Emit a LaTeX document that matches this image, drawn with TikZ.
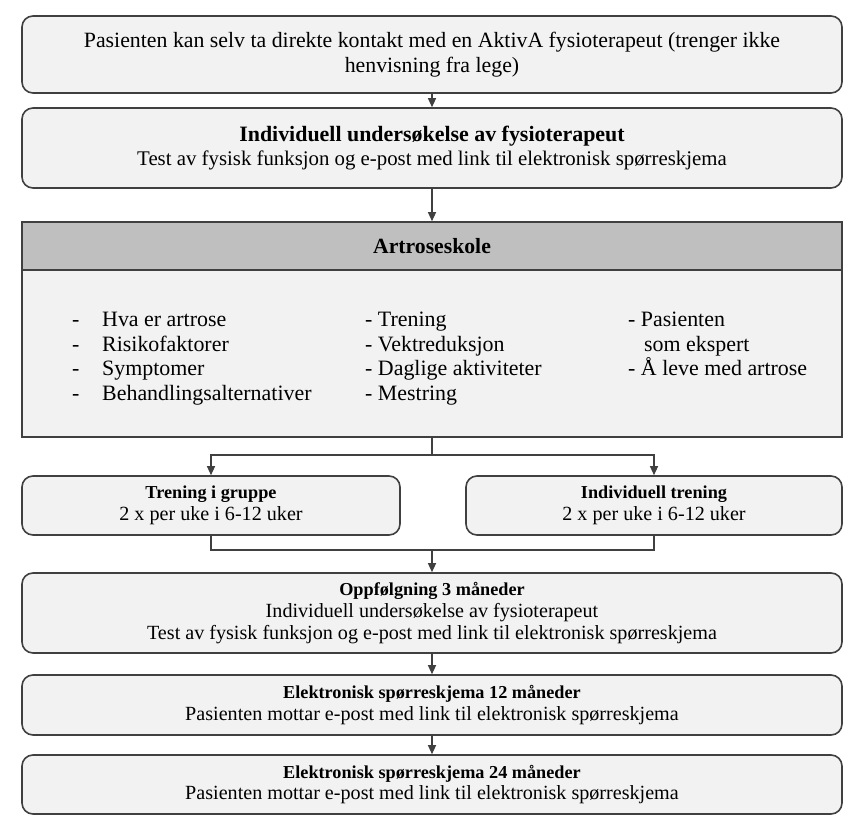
\documentclass[tikz,border=0pt]{standalone}
\usepackage{fontspec}
\setmainfont{Liberation Serif}
\usetikzlibrary{arrows.meta}
\definecolor{boxfill}{HTML}{F2F2F2}
\definecolor{headfill}{HTML}{BFBFBF}
\definecolor{boxline}{HTML}{404040}
\newcommand{\normtxt}{\fontsize{20.9}{24}\selectfont}
\newcommand{\smalltxt}{\fontsize{20.2}{22}\selectfont}
\newcommand{\smallbold}{\fontsize{18.3}{22}\selectfont\bfseries}

\begin{document}
\begin{tikzpicture}[x=1bp,y=-1bp]
\useasboundingbox (0,0) rectangle (861,837);
\begin{scope}[every node/.style={rectangle,rounded corners=11bp,draw=boxline,fill=boxfill,
              line width=1.6bp,minimum width=820bp,align=center,inner sep=0pt}]
    \node[minimum height=77bp,font=\fontsize{21.9}{24.5}\selectfont] (kontakt) at (432,54.5)
        {\raisebox{-1.5bp}{Pasienten kan selv ta direkte kontakt med en AktivA fysioterapeut (trenger ikke}\\\raisebox{-1.5bp}{henvisning fra lege)}};
    \node[minimum height=80bp,font=\normtxt] (undersok) at (432,148)
        {{\fontsize{22}{24}\selectfont\bfseries Individuell undersøkelse av fysioterapeut}\\
         Test av fysisk funksjon og e-post med link til elektronisk spørreskjema};
    \node[minimum width=378bp,minimum height=59bp,font=\smalltxt] (gruppe) at (211,505.5)
        {{\smallbold Trening i gruppe}\\2 x per uke i 6-12 uker};
    \node[minimum width=376bp,minimum height=59bp,font=\smalltxt] (indtren) at (654,505.5)
        {{\smallbold Individuell trening}\\2 x per uke i 6-12 uker};
    \node[minimum height=80bp,font=\smalltxt] (oppf) at (432,613)
        {{\smallbold Oppfølgning 3 måneder}\\Individuell undersøkelse av fysioterapeut\\
         Test av fysisk funksjon og e-post med link til elektronisk spørreskjema};
    \node[minimum height=60bp,font=\smalltxt] (skjema12) at (432,705)
        {{\smallbold Elektronisk spørreskjema 12 måneder}\\Pasienten mottar e-post med link til elektronisk spørreskjema};
    \node[minimum height=59bp,font=\smalltxt] (skjema24) at (432,784.5)
        {{\smallbold Elektronisk spørreskjema 24 måneder}\\Pasienten mottar e-post med link til elektronisk spørreskjema};
\end{scope}
\begin{scope}[every node/.style={rectangle,draw=boxline,line width=1.6bp,minimum width=820bp,inner sep=0pt}]
    \node[fill=headfill,minimum height=48bp,font=\fontsize{21.8}{24}\selectfont\bfseries] (arthead) at (432,246) {Artroseskole};
    \node[fill=boxfill,minimum height=167bp] (artbody) at (432,353.5) {};
\end{scope}
\begin{scope}[every node/.style={anchor=north west,align=left,inner sep=0pt,font=\fontsize{22}{25}\selectfont}]
    \node (dashes) at (72,308.5) {\strut-\\-\\-\\-};
    \node (emner1) at (102,308.5) {\strut Hva er artrose\\Risikofaktorer\\Symptomer\\Behandlingsalternativer};
    \node (emner2) at (365,308.5) {\strut- Trening\\- Vektreduksjon\\- Daglige aktiviteter\\- Mestring};
    \node (emner3) at (628,308.5) {\strut- Pasienten\\\hspace*{16bp}som ekspert\\- Å leve med artrose};
\end{scope}
\begin{scope}[>={Triangle[length=9bp,width=8bp]},
              every edge/.style={draw=boxline,line width=1.2bp}]
    \path [->] (kontakt) edge (undersok);
    \path [->] (undersok) edge (arthead);
    \coordinate (split) at (432,455);
    \coordinate (merge) at (432,550);
    \draw [boxline,line width=1.2bp] (artbody) -- (split);
    \draw [->,boxline,line width=1.2bp] (split) -| (gruppe);
    \draw [->,boxline,line width=1.2bp] (split) -| (indtren);
    \draw [boxline,line width=1.2bp] (gruppe) |- (merge);
    \draw [boxline,line width=1.2bp] (indtren) |- (merge);
    \path [->] (merge) edge (oppf);
    \path [->] (oppf) edge (skjema12);
    \path [->] (skjema12) edge (skjema24);
\end{scope}
\end{tikzpicture}
\end{document}
